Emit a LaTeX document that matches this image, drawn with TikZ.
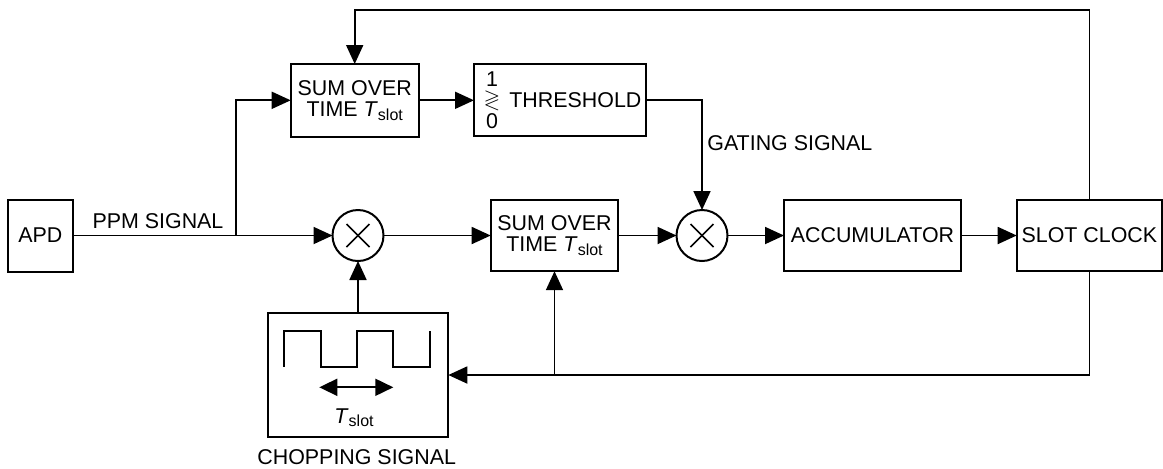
\documentclass[tikz,border=0pt]{standalone}
\usepackage{fontspec}
\usepackage{amssymb}
\setmainfont{Liberation Sans}
\usetikzlibrary{arrows.meta,calc}
\newcommand{\Tslot}{\textit{T}\raisebox{-1.7pt}{\fontsize{8}{8}\selectfont slot}}
\begin{document}
\begin{tikzpicture}[x=0.5pt,y=-0.5pt,
  font=\fontsize{10.7}{10.6}\selectfont,
  blk/.style={draw,line width=1pt,inner sep=0pt,outer sep=0pt,align=center},
  mixer/.style={draw,circle,line width=1pt,minimum size=25.5pt,inner sep=0pt,outer sep=0pt},
  conn/.style={line width=0.9pt},
  arr/.style={conn,-{Triangle[length=9.5pt,width=8.5pt]}},
  dbl/.style={conn,{Triangle[length=9pt,width=8.5pt]}-{Triangle[length=9pt,width=8.5pt]}},
  lbl/.style={inner sep=0pt}]
\useasboundingbox (0,0) rectangle (1163,468);

% blocks
\node[blk,minimum width=32.3pt,minimum height=36pt] (apd) at (40.3,235.5) {APD};
\node[blk,minimum width=64pt,minimum height=36.3pt] (sum1) at (354.7,100.3) {SUM OVER\\TIME \Tslot};
\node[blk,minimum width=85.8pt,minimum height=36pt] (thr) at (559.8,100.3) {};
\node[blk,minimum width=63.8pt,minimum height=35.7pt] (sum2) at (554.5,235.5) {SUM OVER\\TIME \Tslot};
\node[blk,minimum width=88.5pt,minimum height=35.7pt] (acc) at (872.5,235.5) {ACCUMULATOR};
\node[blk,minimum width=72.7pt,minimum height=35.7pt] (clk) at (1089.4,235.5) {SLOT CLOCK};
\node[blk,minimum width=90.3pt,minimum height=61.7pt] (chop) at (358,375) {};
\node[mixer] (mix1) at (358,235.5) {};
\node[mixer] (mix2) at (702,235.5) {};

% mixer crosses
\foreach \m in {mix1,mix2}{
  \draw[line width=0.8pt] ($(\m.center)+(-11.5,-11.5)$) -- ($(\m.center)+(11.5,11.5)$);
  \draw[line width=0.8pt] ($(\m.center)+(-11.5,11.5)$) -- ($(\m.center)+(11.5,-11.5)$);
}

% threshold contents
\node[lbl] (one) at (492,79.5) {1};
\node[lbl] (cmp) at (492,100.3) {$\gtrless$};
\node[lbl] (zero) at (492,121.5) {0};
\node[lbl,anchor=west] (thrtxt) at (509,100.3) {THRESHOLD};

% labels
\node[lbl] (ppm) at (158,221) {PPM SIGNAL};
\node[lbl,anchor=west] (gate) at (707,142.7) {GATING SIGNAL};
\node[lbl] (choplbl) at (356.7,456.7) {CHOPPING SIGNAL};

% chopping signal contents
\draw[line width=0.9pt] (284.3,366.7) -- (284.3,331) -- (320.7,331) -- (320.7,366.7)
  -- (356.7,366.7) -- (356.7,331) -- (393.3,331) -- (393.3,366.7) -- (430,366.7) -- (430,331);
\coordinate (pl) at (319.3,387.3);
\coordinate (pr) at (393.3,387.3);
\draw[dbl] (pl) -- (pr);
\node[lbl] (tsl) at (354,418) {\Tslot};

% coordinates
\coordinate (br) at (235.7,235.5);
\coordinate (topline) at (0,10);
\coordinate (br2) at (sum2.south |- chop.east);

% connectors
\draw[conn] (apd.east) -- (br);
\draw[arr] (br) -- (mix1.west);
\draw[arr] (br) |- (sum1.west);
\draw[arr] (mix1.east) -- (sum2.west);
\draw[arr] (sum2.east) -- (mix2.west);
\draw[arr] (mix2.east) -- (acc.west);
\draw[arr] (acc.east) -- (clk.west);
\draw[arr] (sum1.east) -- (thr.west);
\draw[arr] (thr.east) -| (mix2.north);
\draw[arr] (clk.north) |- (sum1.north |- topline) -- (sum1.north);
\draw[arr] (clk.south) |- (chop.east);
\draw[arr] (br2) -- (sum2.south);
\draw[arr] (chop.north) -- (mix1.south);
\end{tikzpicture}
\end{document}
